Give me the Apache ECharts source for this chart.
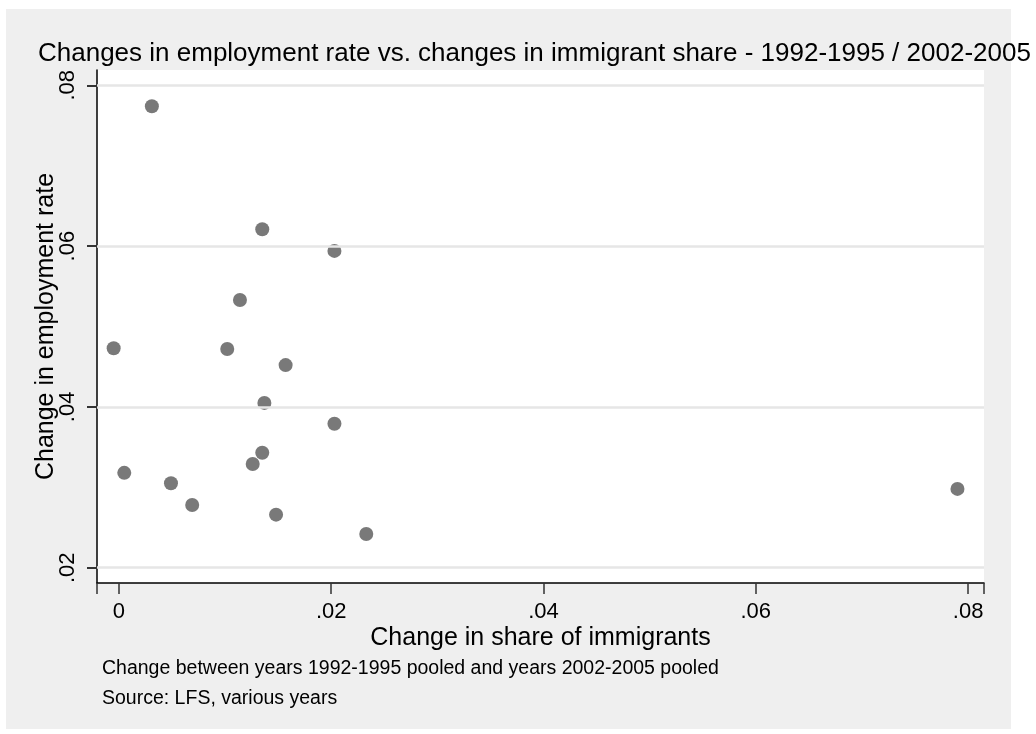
<!DOCTYPE html>
<html>
<head>
<meta charset="utf-8">
<script src="https://cdn.jsdelivr.net/npm/echarts@6/dist/echarts.min.js"></script>
<style>
  html, body { margin: 0; padding: 0; background: #ffffff; }
  #panel { position: absolute; left: 6px; top: 9px; width: 1005px; height: 720px; background: #efefef; }
  #chart { position: absolute; left: 0; top: 0; width: 1036px; height: 734px; }
</style>
</head>
<body>
<div id="panel"></div>
<div id="chart"></div>
<script>
// Change in share of immigrants (x) and change in employment rate (y)
const shareChange = [0.0031, -0.0005, 0.0005, 0.0049, 0.0069, 0.0102, 0.0114, 0.0135, 0.0126, 0.0135, 0.0137, 0.0157, 0.0148, 0.0203, 0.0203, 0.0233, 0.0790];
const emplChange  = [0.0774, 0.0473, 0.0318, 0.0305, 0.0278, 0.0472, 0.0533, 0.0621, 0.0329, 0.0343, 0.0405, 0.0452, 0.0266, 0.0594, 0.0379, 0.0242, 0.0298];
const xTicks = [0, 0.02, 0.04, 0.06, 0.08];
const yTicks = [0.02, 0.04, 0.06, 0.08];
const titleText = 'Changes in employment rate vs. changes in immigrant share - 1992-1995 / 2002-2005';
const xName = 'Change in share of immigrants';
const yName = 'Change in employment rate';
const note1 = 'Change between years 1992-1995 pooled and years 2002-2005 pooled';
const note2 = 'Source: LFS, various years';

const points = shareChange.map((x, i) => [x, emplChange[i]]);
const fmt = v => (Math.abs(v) < 1e-12 ? '0' : v.toFixed(2).replace(/^0/, '').replace(/^-0/, '-'));
const FONT = '"Liberation Sans", Arial, sans-serif';

const chart = echarts.init(document.getElementById('chart'), null, { renderer: 'canvas' });
chart.setOption({
  animation: false,
  backgroundColor: 'transparent',
  textStyle: { fontFamily: FONT },
  title: {
    text: titleText,
    left: 33, top: 36,
    textStyle: { fontSize: 26, fontWeight: 'normal', color: '#000', fontFamily: FONT }
  },
  graphic: [
    { type: 'text', left: 102, top: 659, style: { text: note1, font: '19.5px ' + FONT, fill: '#000' } },
    { type: 'text', left: 102, top: 689, style: { text: note2, font: '19.5px ' + FONT, fill: '#000' } }
  ],
  grid: {
    left: 97, top: 70, right: 52, bottom: 151,
    show: true, backgroundColor: '#ffffff', borderWidth: 0
  },
  xAxis: {
    type: 'value',
    min: -0.00207, max: 0.0815,
    name: xName, nameLocation: 'middle', nameGap: 43, nameMoveOverlap: false,
    nameTextStyle: { fontSize: 25, color: '#000', fontFamily: FONT },
    axisLine: { show: true, onZero: false, lineStyle: { color: '#000', width: 1.5 } },
    axisTick: { show: true, inside: false, length: 11, lineStyle: { color: '#333', width: 1.5 } },
    axisLabel: { customValues: xTicks, formatter: fmt, fontSize: 22, color: '#000', margin: 18, fontFamily: FONT },
    splitLine: { show: false }
  },
  yAxis: {
    type: 'value',
    min: 0.0181, max: 0.0819,
    name: yName, nameLocation: 'middle', nameGap: 38, nameMoveOverlap: false,
    nameTextStyle: { fontSize: 25, color: '#000', fontFamily: FONT },
    axisLine: { show: true, onZero: false, lineStyle: { color: '#000', width: 1.5 } },
    axisTick: { show: true, inside: false, customValues: yTicks, length: 10, lineStyle: { color: '#333', width: 2 } },
    axisLabel: { customValues: yTicks, formatter: fmt, fontSize: 22, color: '#000', margin: 18, rotate: 90, fontFamily: FONT },
    splitLine: { show: false }
  },
  series: [
    {
      type: 'scatter', silent: true, z: 1, data: [],
      markLine: {
        silent: true, symbol: ['none', 'none'], label: { show: false },
        lineStyle: { type: 'solid', color: '#e6e6e6', width: 2.5 },
        data: yTicks.map(v => ({ yAxis: v }))
      }
    },
    {
      type: 'scatter', z: 3,
      symbol: 'circle', symbolSize: 14,
      itemStyle: { color: '#585858' },
      data: points
    }
  ]
});
</script>
</body>
</html>
